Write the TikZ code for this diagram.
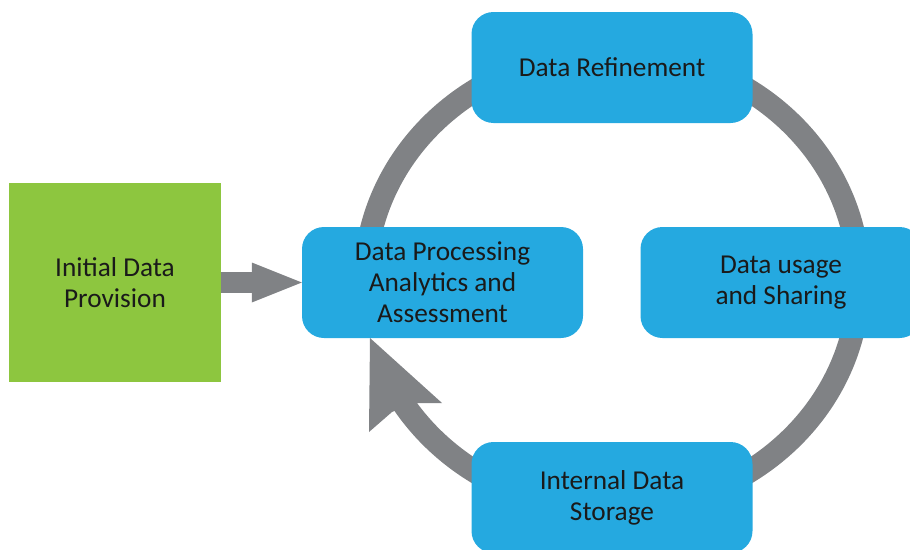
\documentclass[tikz,border=0pt]{standalone}
\usepackage{fontspec}
\setmainfont{Carlito}
\usetikzlibrary{arrows.meta}
\definecolor{boxblue}{HTML}{25A9E0}
\definecolor{leafgreen}{HTML}{8DC63F}
\definecolor{ringgray}{HTML}{808285}
\definecolor{labeltext}{HTML}{1A1A1A}
\begin{document}
\begin{tikzpicture}[x=1pt,y=-1pt,
  bluebox/.style={fill=boxblue, rounded corners=22pt, minimum width=281pt,
    minimum height=111pt, align=center, inner sep=0pt, text=labeltext,
    font=\fontsize{27.3}{31}\selectfont},
  greenbox/.style={fill=leafgreen, minimum width=212pt, minimum height=199pt,
    align=center, inner sep=0pt, text=labeltext,
    font=\fontsize{27.3}{31}\selectfont},
  ringline/.style={draw=ringgray, line width=23pt},
  feedarrow/.style={draw=ringgray, line width=21pt,
    -{Triangle[length=50pt,width=40pt,line width=0pt]}}]
\useasboundingbox (0,0) rectangle (910,549);
% ring
\draw[ringline] plot[domain=212:545, samples=200, smooth]
  ({612+247*cos(\x)}, {281-229*sin(\x)});
\fill[ringgray] (370,338) -- (369,432) -- (392,412) -- (414,403) -- (442,403) -- cycle;
% boxes
\node[bluebox] (refine) at (612,67.5) {Data Refinement};
\node[bluebox] (proc) at (442.5,282.5) {Data Processing\\Analytics and\\Assessment};
\node[bluebox] (usage) at (781,282.5) {Data usage\\and Sharing};
\node[bluebox] (store) at (612,497.5) {Internal Data\\Storage};
\node[greenbox] (init) at (115,282.5) {Initial Data\\Provision};
\draw[feedarrow] (init.east) -- (proc.west);
\end{tikzpicture}
\end{document}
